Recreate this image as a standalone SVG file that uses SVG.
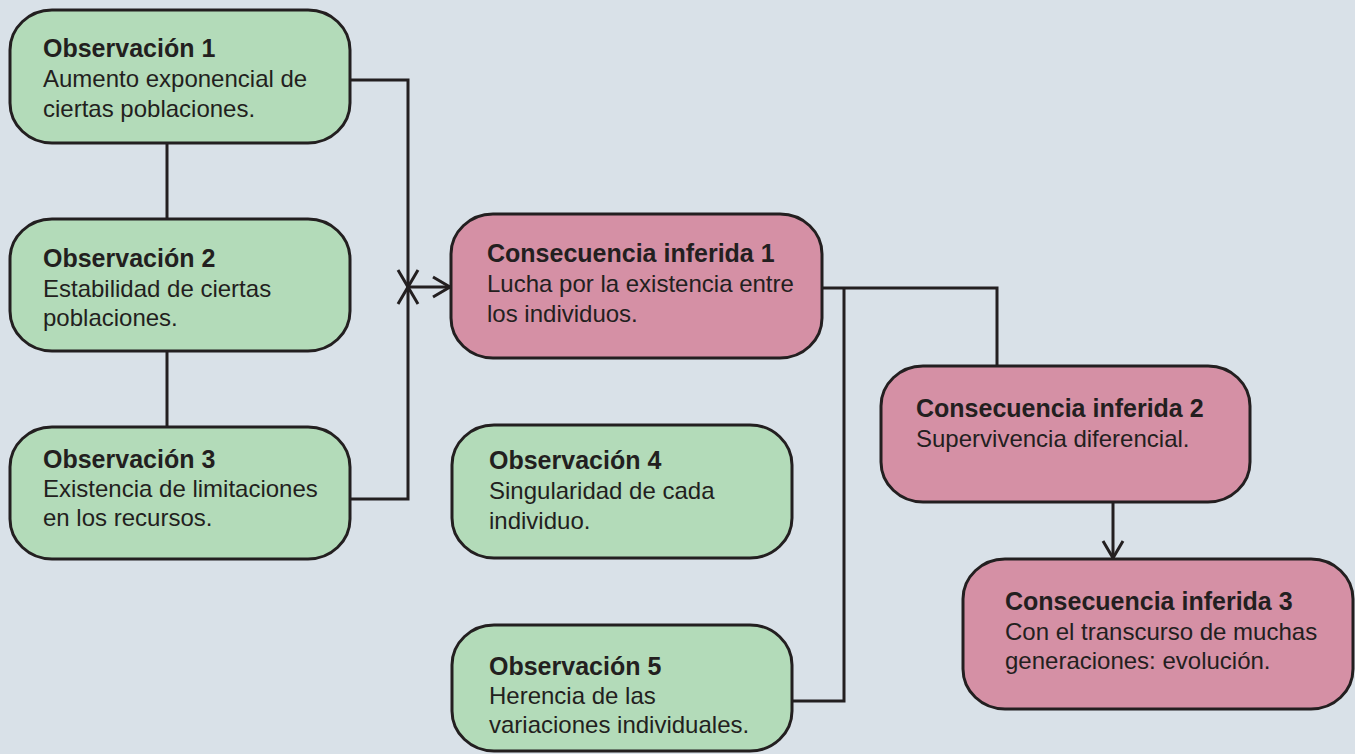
<svg xmlns="http://www.w3.org/2000/svg" width="1355" height="754" viewBox="0 0 1355 754">
<defs>
<style>
.obs{fill:#b3dbb9;stroke:#231f20;stroke-width:3}
.con{fill:#d590a5;stroke:#231f20;stroke-width:3}
.ln{fill:none;stroke:#231f20;stroke-width:3}
text{font-family:"Liberation Sans",Arial,sans-serif;fill:#231f20}
.t{font-size:25px;font-weight:bold}
.b{font-size:24px}
</style>
<marker id="arr" markerUnits="userSpaceOnUse" viewBox="-20 -12 22 24" markerWidth="22" markerHeight="24" refX="0" refY="0" orient="auto" overflow="visible">
<path d="M-17,-10 L0,0 L-17,10" fill="none" stroke="#231f20" stroke-width="3"/>
</marker>
</defs>
<rect width="1355" height="754" fill="#d9e1e8"/>
<g id="connectors">
<line class="ln" x1="167" y1="143" x2="167" y2="219"/>
<line class="ln" x1="167" y1="351" x2="167" y2="427"/>
<polyline class="ln" points="350,80 408,80 408,287" marker-end="url(#arr)"/>
<polyline class="ln" points="351,499 408,499 408,287" marker-end="url(#arr)"/>
<line class="ln" x1="408" y1="287" x2="450" y2="287" marker-end="url(#arr)"/>
<polyline class="ln" points="822,288 997,288 997,366"/>
<polyline class="ln" points="844,288 844,701 792,701"/>
<line class="ln" x1="1113" y1="502" x2="1113" y2="558" marker-end="url(#arr)"/>
</g>
<g id="obs1">
<rect class="obs" x="10" y="10" width="340" height="133" rx="42" ry="40"/>
<text x="43" y="57" class="t">Observación 1</text>
<text x="43" y="87" class="b">Aumento exponencial de</text>
<text x="43" y="117" class="b">ciertas poblaciones.</text>
</g>
<g id="obs2">
<rect class="obs" x="10" y="219" width="340" height="132" rx="42" ry="40"/>
<text x="43" y="267" class="t">Observación 2</text>
<text x="43" y="297" class="b">Estabilidad de ciertas</text>
<text x="43" y="326" class="b">poblaciones.</text>
</g>
<g id="obs3">
<rect class="obs" x="10" y="427" width="340" height="132" rx="42" ry="40"/>
<text x="43" y="468" class="t">Observación 3</text>
<text x="43" y="497" class="b">Existencia de limitaciones</text>
<text x="43" y="526" class="b">en los recursos.</text>
</g>
<g id="cons1">
<rect class="con" x="451" y="214" width="371" height="144" rx="42" ry="40"/>
<text x="487" y="262" class="t">Consecuencia inferida 1</text>
<text x="487" y="292" class="b">Lucha por la existencia entre</text>
<text x="487" y="322" class="b">los individuos.</text>
</g>
<g id="obs4">
<rect class="obs" x="452" y="425" width="340" height="133" rx="42" ry="40"/>
<text x="489" y="469" class="t">Observación 4</text>
<text x="489" y="499" class="b">Singularidad de cada</text>
<text x="489" y="529" class="b">individuo.</text>
</g>
<g id="obs5">
<rect class="obs" x="452" y="625" width="340" height="126" rx="42" ry="40"/>
<text x="489" y="675" class="t">Observación 5</text>
<text x="489" y="704" class="b">Herencia de las</text>
<text x="489" y="733" class="b">variaciones individuales.</text>
</g>
<g id="cons2">
<rect class="con" x="881" y="366" width="369" height="136" rx="42" ry="40"/>
<text x="916" y="417" class="t">Consecuencia inferida 2</text>
<text x="916" y="447" class="b">Supervivencia diferencial.</text>
</g>
<g id="cons3">
<rect class="con" x="963" y="559" width="390" height="150" rx="42" ry="40"/>
<text x="1005" y="610" class="t">Consecuencia inferida 3</text>
<text x="1005" y="640" class="b">Con el transcurso de muchas</text>
<text x="1005" y="669" class="b">generaciones: evolución.</text>
</g>
</svg>
